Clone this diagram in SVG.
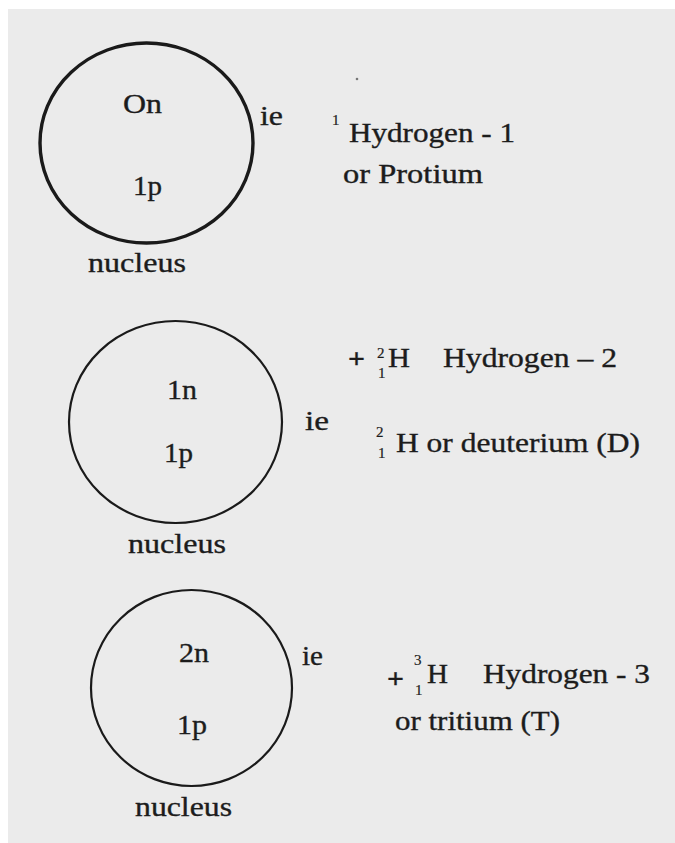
<svg xmlns="http://www.w3.org/2000/svg" width="675" height="843" viewBox="0 0 675 843">
  <style>
    .t { font-family: 'Liberation Serif', Tinos, 'Times New Roman', Times, serif; fill: #1c1c1c; font-size: 27px; stroke: #1c1c1c; stroke-width: 0.35; }
    .sm { font-size: 15px; stroke-width: 0.2; }
    .ring { fill: none; stroke: #1a1a1a; stroke-width: 2.2; }
    .thick { stroke-width: 3.4; }
  </style>
  <rect x="0" y="0" width="675" height="843" fill="#ffffff"/>
  <rect x="8" y="9" width="667" height="834" fill="#ebebeb"/>
  <circle cx="357" cy="79" r="1.3" fill="#777"/>

  <g id="hydrogen-1" class="t" font-family="Liberation Serif, Tinos, Times New Roman, serif">
    <ellipse class="ring thick" cx="146.5" cy="143" rx="106.5" ry="100"/>
    <text x="123" y="113" textLength="39" lengthAdjust="spacingAndGlyphs">On</text>
    <text x="133" y="195" textLength="29" lengthAdjust="spacingAndGlyphs">1p</text>
    <text x="88" y="272" textLength="98" lengthAdjust="spacingAndGlyphs">nucleus</text>
    <text x="260" y="125" textLength="23" lengthAdjust="spacingAndGlyphs">ie</text>
    <text class="sm" x="332" y="125">1</text>
    <text x="349" y="142" textLength="166" lengthAdjust="spacingAndGlyphs">Hydrogen - 1</text>
    <text x="343" y="183" textLength="140" lengthAdjust="spacingAndGlyphs">or Protium</text>
  </g>

  <g id="hydrogen-2" class="t" font-family="Liberation Serif, Tinos, Times New Roman, serif">
    <ellipse class="ring" cx="175.5" cy="422" rx="106.5" ry="101"/>
    <text x="167" y="399" textLength="30" lengthAdjust="spacingAndGlyphs">1n</text>
    <text x="164" y="462" textLength="29" lengthAdjust="spacingAndGlyphs">1p</text>
    <text x="128" y="553" textLength="98" lengthAdjust="spacingAndGlyphs">nucleus</text>
    <text x="305" y="430" textLength="24" lengthAdjust="spacingAndGlyphs">ie</text>
    <text x="348" y="368" textLength="17" lengthAdjust="spacingAndGlyphs" font-weight="bold">+</text>
    <text class="sm" x="377" y="358">2</text>
    <text class="sm" x="378" y="378">1</text>
    <text x="388" y="367" textLength="22" lengthAdjust="spacingAndGlyphs">H</text>
    <text x="443" y="367" textLength="174" lengthAdjust="spacingAndGlyphs">Hydrogen – 2</text>
    <text class="sm" x="376" y="437">2</text>
    <text class="sm" x="378" y="458">1</text>
    <text x="396" y="452" textLength="244" lengthAdjust="spacingAndGlyphs">H or deuterium (D)</text>
  </g>

  <g id="hydrogen-3" class="t" font-family="Liberation Serif, Tinos, Times New Roman, serif">
    <ellipse class="ring" cx="191.5" cy="688" rx="100.5" ry="98"/>
    <text x="179" y="662" textLength="30" lengthAdjust="spacingAndGlyphs">2n</text>
    <text x="177" y="734" textLength="30" lengthAdjust="spacingAndGlyphs">1p</text>
    <text x="135" y="816" textLength="97" lengthAdjust="spacingAndGlyphs">nucleus</text>
    <text x="302" y="665" textLength="21" lengthAdjust="spacingAndGlyphs">ie</text>
    <text x="387" y="688" textLength="17" lengthAdjust="spacingAndGlyphs" font-weight="bold">+</text>
    <text class="sm" x="414" y="665">3</text>
    <text class="sm" x="415" y="695">1</text>
    <text x="427" y="683" textLength="21" lengthAdjust="spacingAndGlyphs">H</text>
    <text x="483" y="683" textLength="167" lengthAdjust="spacingAndGlyphs">Hydrogen - 3</text>
    <text x="395" y="730" textLength="165" lengthAdjust="spacingAndGlyphs">or tritium (T)</text>
  </g>
</svg>
